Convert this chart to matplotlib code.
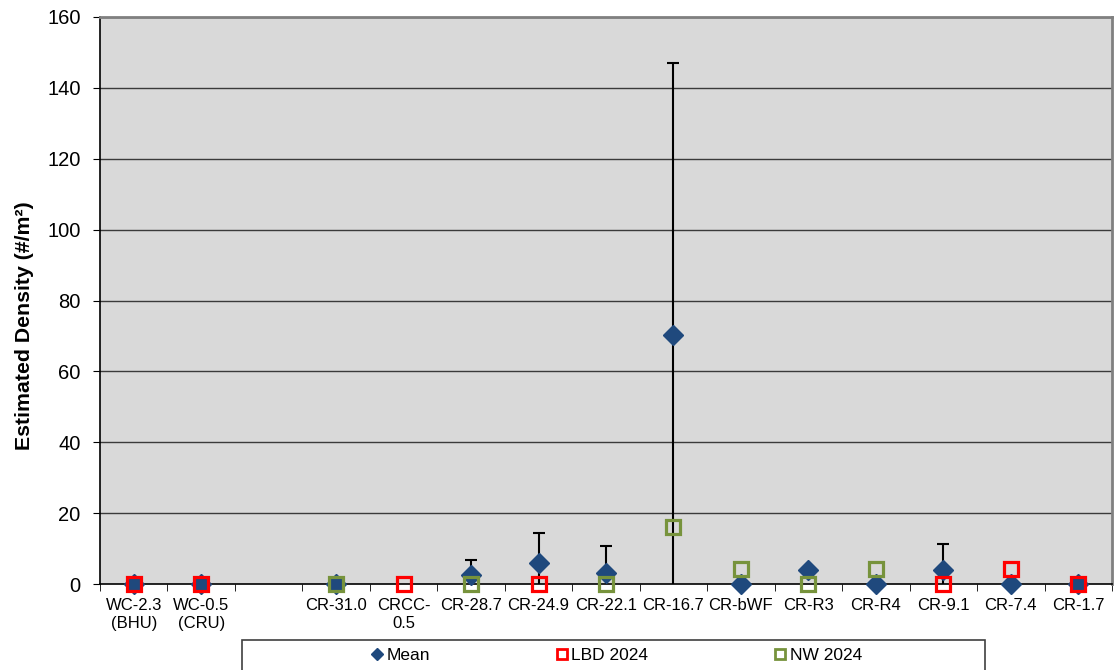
import matplotlib.pyplot as plt
import matplotlib.patches as mpatches
import numpy as np

plt.rcParams['font.family'] = ['Liberation Sans', 'DejaVu Sans']

# categories (3rd slot is an empty gap in the original chart)
sites = ['WC-2.3\n(BHU)', 'WC-0.5\n(CRU)', '', 'CR-31.0', 'CRCC-\n0.5', 'CR-28.7',
         'CR-24.9', 'CR-22.1', 'CR-16.7', 'CR-bWF', 'CR-R3', 'CR-R4',
         'CR-9.1', 'CR-7.4', 'CR-1.7']
nan = np.nan
mean_vals = [0, 0, nan, 0, nan, 2.5, 5.8, 3.2, 70.3, 0, 4.0, 0, 4.0, 0, 0]
mean_err = [0, 0, nan, 0, nan, 4.3, 8.6, 7.5, 76.7, 0, 0, 0, 7.2, 0, 0]
lbd_2024 = [0, 0, nan, nan, 0, nan, 0, nan, nan, nan, nan, nan, 0, 4.1, 0]
nw_2024 = [nan, nan, nan, 0, nan, 0, nan, 0, 16.2, 4.1, 0, 4.1, nan, nan, nan]

x = np.arange(len(sites))
mean_arr = np.array(mean_vals, dtype=float)
err_arr = np.array(mean_err, dtype=float)

fig = plt.figure(figsize=(11.15, 6.7), dpi=100)
ax = fig.add_axes([100/1115, 86/670, 1012/1115, 567/670])
ax.set_facecolor('#d9d9d9')

# horizontal grid
for yv in range(20, 161, 20):
    ax.axhline(yv, color='#3a3a3a', lw=1, zorder=1)

# error bars only where there is a spread
has_err = ~np.isnan(err_arr) & (err_arr > 0)
ax.errorbar(x[has_err], mean_arr[has_err], yerr=err_arr[has_err], fmt='none',
            ecolor='black', elinewidth=1.5, capsize=4.3, capthick=1.5, zorder=2)

ax.plot(x, mean_vals, 'D', color='#1f497d', ms=10, ls='none', zorder=3,
        label='Mean', clip_on=False)
ax.plot(x, lbd_2024, 's', mfc='none', mec='#ff0000', mew=2.3, ms=9.5, ls='none',
        zorder=4, label='LBD 2024', clip_on=False)
ax.plot(x, nw_2024, 's', mfc='none', mec='#77933c', mew=2.3, ms=9.5, ls='none',
        zorder=5, label='NW 2024', clip_on=False)

ax.set_xlim(-0.5, len(sites) - 0.5)
ax.set_ylim(0, 160)
ax.set_yticks(range(0, 161, 20))
ax.tick_params(axis='y', labelsize=14.5, length=5, direction='out', pad=9)

ax.set_xticks(x)
ax.set_xticklabels(sites, fontsize=12, linespacing=1.25)
ax.tick_params(axis='x', which='major', length=0, pad=10)
ax.set_xticks(np.arange(-0.5, len(sites)), minor=True)
ax.tick_params(axis='x', which='minor', length=5, direction='out')

ax.set_ylabel('Estimated Density (#/m²)', fontsize=15.3, fontweight='bold')
ax.yaxis.set_label_coords(-66/1012, 0.455)

ax.spines['left'].set_color('black')
ax.spines['bottom'].set_color('black')
ax.spines['left'].set_linewidth(1.2)
ax.spines['bottom'].set_linewidth(1.2)
ax.spines['top'].set_color('#808080')
ax.spines['right'].set_color('#808080')
ax.spines['top'].set_linewidth(2)
ax.spines['right'].set_linewidth(2)

# legend box below the chart
box = mpatches.Rectangle((242/1115, -0.01), (985-242)/1115, 0.01 + 30/670,
                         transform=fig.transFigure, fill=False, edgecolor='#404040',
                         lw=1.2)
fig.patches.append(box)

handles, labels = ax.get_legend_handles_labels()
leg_h = [
    plt.Line2D([], [], marker='D', color='#1f497d', ms=6, ls='none'),
    plt.Line2D([], [], marker='s', mfc='none', mec='#ff0000', mew=2, ms=6.5, ls='none'),
    plt.Line2D([], [], marker='s', mfc='none', mec='#77933c', mew=2, ms=6.5, ls='none'),
]
fig.legend(leg_h, labels, loc='center', bbox_to_anchor=(616/1115, 1 - 655/670),
           ncol=3, frameon=False, fontsize=12.5, handlelength=0.8,
           handletextpad=0.15, columnspacing=7.2)

fig.savefig('out.png', dpi=100)
